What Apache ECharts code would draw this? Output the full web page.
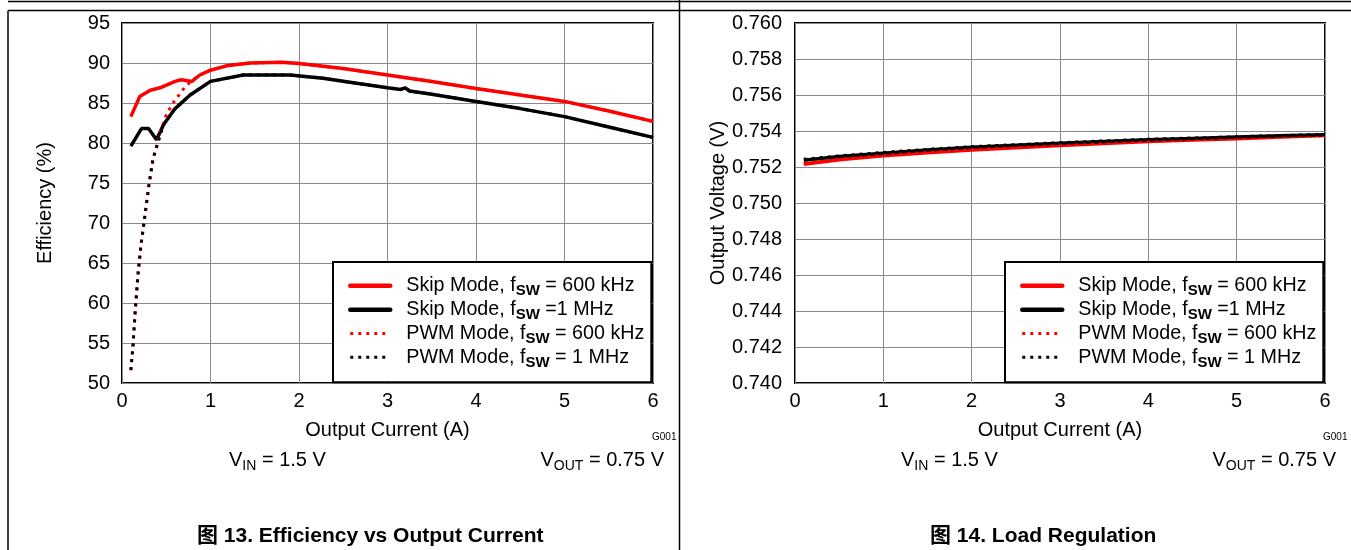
<!DOCTYPE html>
<html>
<head>
<meta charset="utf-8">
<script src="https://cdn.jsdelivr.net/npm/echarts@6/dist/echarts.min.js"></script>
<style>
html,body{margin:0;padding:0;background:#fff;}
#c{width:1351px;height:550px;}
</style>
</head>
<body>
<div id="c"></div>
<script>
// ---------- Data: Figure 13 (Efficiency vs Output Current) ----------
const effSkip600X = [0.1,0.2,0.32,0.43,0.6,0.67,0.79,0.88,1.0,1.2,1.45,1.8,2.0,2.5,3.0,3.5,4.0,4.5,5.0,5.5,6.0];
const effSkip600Y = [83.3,85.8,86.6,86.9,87.7,87.9,87.7,88.5,89.1,89.7,90.0,90.1,89.95,89.3,88.5,87.7,86.8,86.0,85.2,84.0,82.7];

const effSkip1MX = [0.1,0.22,0.3,0.39,0.47,0.6,0.77,1.0,1.37,1.9,2.27,2.69,3.0,3.15,3.2,3.25,3.5,4.0,4.5,5.0,5.5,6.0];
const effSkip1MY = [79.6,81.8,81.8,80.4,82.3,84.3,86.0,87.7,88.5,88.5,88.1,87.4,86.9,86.7,86.9,86.5,86.1,85.2,84.3,83.3,82.0,80.7];

const effPwm600X = [0.1,0.125,0.15,0.18,0.215,0.26,0.305,0.35,0.39,0.43,0.47,0.5,0.54,0.6,0.66,0.71,0.8,0.9,1.0,1.2,1.45,1.8,2.0,2.5,3.0,3.5,4.0,4.5,5.0,5.5,6.0];
const effPwm600Y = [51.6,54.8,59.1,63.5,67.3,71.0,74.8,78.0,79.4,81.4,82.5,83.5,84.3,85.4,86.2,87.0,87.9,88.6,89.1,89.7,90.0,90.1,89.95,89.3,88.5,87.7,86.8,86.0,85.2,84.0,82.7];

const effPwm1MX = [0.1,0.125,0.15,0.18,0.215,0.26,0.305,0.35,0.39,0.47,0.6,0.77,1.0,1.37,1.9,2.27,2.69,3.0,3.15,3.2,3.25,3.5,4.0,4.5,5.0,5.5,6.0];
const effPwm1MY = [51.6,54.8,59.1,63.5,67.3,71.0,74.8,78.0,79.5,82.3,84.3,86.0,87.7,88.5,88.5,88.1,87.4,86.9,86.7,86.9,86.5,86.1,85.2,84.3,83.3,82.0,80.7];

// ---------- Data: Figure 14 (Load Regulation) ----------
const regX = [0.1,0.5,1.0,1.5,2.0,2.5,3.0,3.5,4.0,4.5,5.0,5.5,6.0];
const regSkip600 = [0.75215,0.75240,0.75262,0.75279,0.75294,0.75307,0.75319,0.75331,0.75342,0.75350,0.75357,0.75366,0.75375];
const regSkip1M  = [0.75238,0.75258,0.75277,0.75294,0.75310,0.75321,0.75332,0.75342,0.75351,0.75359,0.75366,0.75373,0.75379];
const regPwm600  = [0.75220,0.75244,0.75266,0.75283,0.75298,0.75311,0.75322,0.75334,0.75344,0.75352,0.75359,0.75367,0.75376];
const regPwm1M   = [0.75243,0.75262,0.75281,0.75298,0.75313,0.75324,0.75335,0.75345,0.75354,0.75361,0.75368,0.75375,0.75381];

// ---------- Labels ----------
const seriesNames = ['Skip Mode, fSW = 600 kHz','Skip Mode, fSW =1 MHz','PWM Mode, fSW = 600 kHz','PWM Mode, fSW = 1 MHz'];
const legendRich = {
  'Skip Mode, fSW = 600 kHz': '{p|Skip Mode, f}{s|SW}{a| = 600 kHz}',
  'Skip Mode, fSW =1 MHz': '{p|Skip Mode, f}{s|SW}{a| =1 MHz}',
  'PWM Mode, fSW = 600 kHz': '{p|PWM Mode, f}{s|SW}{a| = 600 kHz}',
  'PWM Mode, fSW = 1 MHz': '{p|PWM Mode, f}{s|SW}{a| = 1 MHz}'
};
const xTitle = 'Output Current (A)';
const yTitleL = 'Efficiency (%)';
const yTitleR = 'Output Voltage (V)';
const captionL = '图 13. Efficiency vs Output Current';
const captionR = '图 14. Load Regulation';

const FONT = '"Liberation Sans", Arial, "Noto Sans CJK SC", sans-serif';
const FS = 20;
const pair = (xs, ys) => xs.map((x, i) => [x, ys[i]]);

const chart = echarts.init(document.getElementById('c'), null, {renderer: 'canvas'});

const richStyles = {
  p: {fontFamily: FONT, fontSize: 19.7, color: '#000', lineHeight: 20, verticalAlign: 'middle', padding: [0,0,0,11]},
  a: {fontFamily: FONT, fontSize: 19.7, color: '#000', lineHeight: 20, verticalAlign: 'middle'},
  s: {fontFamily: FONT, fontSize: 15, fontWeight: 'bold', color: '#000', lineHeight: 26, verticalAlign: 'bottom'}
};

function mkLegend(left) {
  return {
    left: left, top: 262,
    orient: 'vertical',
    data: [
      {name: seriesNames[0], lineStyle: {width: 4.5, cap: 'round'}},
      {name: seriesNames[1], lineStyle: {width: 4.5, cap: 'round'}},
      {name: seriesNames[2], lineStyle: {width: 3, type: [3, 5]}},
      {name: seriesNames[3], lineStyle: {width: 3, type: [3, 5]}}
    ],
    itemWidth: 40, itemHeight: 14, itemGap: 1,
    padding: [14, 7, 12, 15],
    backgroundColor: '#fff',
    borderColor: '#000', borderWidth: 2,
    selectedMode: false,
    itemStyle: {opacity: 0},
    formatter: n => legendRich[n],
    textStyle: {fontFamily: FONT, fontSize: FS, color: '#000', rich: richStyles}
  };
}

const axisLabelStyle = {fontFamily: FONT, fontSize: FS, color: '#000'};
const splitStyle = {show: true, lineStyle: {color: '#8a8a8a', width: 1}};

function mkX(idx) {
  return {
    gridIndex: idx, type: 'value', min: 0, max: 6, interval: 1,
    name: xTitle, nameLocation: 'middle', nameGap: 37,
    nameTextStyle: axisLabelStyle,
    axisLine: {show: false}, axisTick: {show: false},
    axisLabel: Object.assign({margin: 8}, axisLabelStyle),
    splitLine: splitStyle
  };
}

const solid = (color) => ({color: color, width: 3.5, type: 'solid'});
const dotted = (color) => ({color: color, width: 3, type: [3, 5]});

function mkSeries(name, data, ax, style, z) {
  return {
    name: name, type: 'line', xAxisIndex: ax, yAxisIndex: ax,
    data: data, symbol: 'none', lineStyle: style, itemStyle: {color: style.color},
    z: z, silent: true, animation: false
  };
}

const subRich = {
  a: {fontFamily: FONT, fontSize: FS, fill: '#000', lineHeight: 20, verticalAlign: 'middle'},
  s: {fontFamily: FONT, fontSize: 14, fill: '#000', lineHeight: 26, verticalAlign: 'bottom'}
};

const option = {
  animation: false,
  grid: [
    {left: 122, top: 23, width: 531, height: 360, show: true, borderColor: '#000', borderWidth: 2, backgroundColor: 'transparent'},
    {left: 795, top: 23, width: 530, height: 360, show: true, borderColor: '#000', borderWidth: 2, backgroundColor: 'transparent'}
  ],
  xAxis: [mkX(0), mkX(1)],
  yAxis: [
    {
      gridIndex: 0, type: 'value', min: 50, max: 95, interval: 5,
      name: yTitleL, nameLocation: 'middle', nameGap: 67, nameTextStyle: axisLabelStyle,
      axisLine: {show: false}, axisTick: {show: false},
      axisLabel: Object.assign({margin: 12}, axisLabelStyle),
      splitLine: splitStyle
    },
    {
      gridIndex: 1, type: 'value', min: 0.740, max: 0.760, interval: 0.002,
      name: yTitleR, nameLocation: 'middle', nameGap: 67, nameTextStyle: axisLabelStyle,
      axisLine: {show: false}, axisTick: {show: false},
      axisLabel: Object.assign({margin: 13, formatter: v => v.toFixed(3)}, axisLabelStyle),
      splitLine: splitStyle
    }
  ],
  legend: [mkLegend(333), mkLegend(1005)],
  series: [
    mkSeries(seriesNames[0], pair(effSkip600X, effSkip600Y), 0, solid('#ff0000'), 3),
    mkSeries(seriesNames[1], pair(effSkip1MX, effSkip1MY), 0, solid('#000000'), 3),
    mkSeries(seriesNames[2], pair(effPwm600X, effPwm600Y), 0, dotted('#ff0000'), 4),
    mkSeries(seriesNames[3], pair(effPwm1MX, effPwm1MY), 0, dotted('#000000'), 4),
    mkSeries(seriesNames[0], pair(regX, regSkip600), 1, solid('#ff0000'), 3),
    mkSeries(seriesNames[1], pair(regX, regSkip1M), 1, solid('#000000'), 3),
    mkSeries(seriesNames[2], pair(regX, regPwm600), 1, dotted('#ff0000'), 4),
    mkSeries(seriesNames[3], pair(regX, regPwm1M), 1, dotted('#000000'), 4)
  ],
  graphic: [
    {type: 'line', shape: {x1: 8, y1: 1.5, x2: 1351, y2: 1.5}, style: {stroke: '#000', lineWidth: 1.5}},
    {type: 'line', shape: {x1: 8, y1: 10.5, x2: 1351, y2: 10.5}, style: {stroke: '#000', lineWidth: 1.5}},
    {type: 'line', shape: {x1: 8, y1: 10.5, x2: 8, y2: 550}, style: {stroke: '#000', lineWidth: 1.5}},
    {type: 'line', shape: {x1: 679.5, y1: 0, x2: 679.5, y2: 550}, style: {stroke: '#000', lineWidth: 1.5}},
    {type: 'text', x: 652, y: 437, style: {text: 'G001', font: '10px ' + FONT, fill: '#000', verticalAlign: 'middle'}},
    {type: 'text', x: 1323, y: 437, style: {text: 'G001', font: '10px ' + FONT, fill: '#000', verticalAlign: 'middle'}},
    {type: 'text', x: 229, y: 460, style: {text: '{a|V}{s|IN}{a| = 1.5 V}', verticalAlign: 'middle', rich: subRich}},
    {type: 'text', x: 664, y: 460, style: {text: '{a|V}{s|OUT}{a| = 0.75 V}', align: 'right', verticalAlign: 'middle', rich: subRich}},
    {type: 'text', x: 901, y: 460, style: {text: '{a|V}{s|IN}{a| = 1.5 V}', verticalAlign: 'middle', rich: subRich}},
    {type: 'text', x: 1336, y: 460, style: {text: '{a|V}{s|OUT}{a| = 0.75 V}', align: 'right', verticalAlign: 'middle', rich: subRich}},
    {type: 'text', x: 197, y: 536, style: {text: captionL, font: 'bold 21px ' + FONT, fill: '#000', verticalAlign: 'middle'}},
    {type: 'text', x: 930, y: 536, style: {text: captionR, font: 'bold 21px ' + FONT, fill: '#000', verticalAlign: 'middle'}}
  ]
};
chart.setOption(option);
</script>
</body>
</html>
